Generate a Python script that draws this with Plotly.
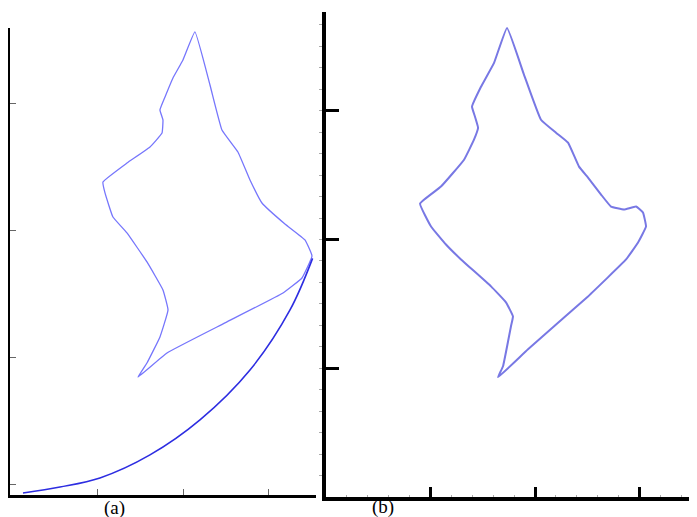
import plotly.graph_objects as go

# panel (a): closed loop, then the lower curve
a_loop_x = [2.134, 2.310, 2.450, 2.637, 2.778, 2.918, 3.187, 3.421, 3.503, 3.386,
            3.164, 2.485, 1.807, 1.468, 1.573, 1.725, 1.819, 1.760, 1.573, 1.339,
            1.175, 1.082, 1.058, 1.339, 1.608, 1.749, 1.760, 1.725, 1.784, 1.877,
            1.994, 2.134]
a_loop_y = [3.559, 3.142, 2.789, 2.616, 2.396, 2.215, 2.050, 1.925, 1.799, 1.626,
            1.508, 1.273, 1.037, 0.848, 0.958, 1.163, 1.375, 1.532, 1.752, 1.980,
            2.105, 2.294, 2.380, 2.529, 2.655, 2.765, 2.867, 2.946, 3.048, 3.197,
            3.339, 3.559]
a_curve_x = [0.123, 0.556, 1.023, 1.608, 2.193, 2.778, 3.246, 3.510]
a_curve_y = [-0.063, -0.016, 0.055, 0.236, 0.511, 0.903, 1.375, 1.780]

# panel (b): closed loop
b_loop_x = [1.732, 1.895, 2.057, 2.201, 2.316, 2.421, 2.507, 2.632, 2.727, 2.852,
            2.967, 3.033, 3.062, 2.986, 2.871, 2.507, 1.933, 1.646, 1.694, 1.770,
            1.789, 1.722, 1.579, 1.292, 1.148, 1.005, 0.900, 1.100, 1.321, 1.416,
            1.455, 1.426, 1.397, 1.483, 1.608, 1.732]
b_loop_y = [3.643, 3.279, 2.930, 2.829, 2.752, 2.566, 2.481, 2.349, 2.256, 2.233,
            2.256, 2.209, 2.101, 1.977, 1.845, 1.558, 1.147, 0.930, 1.016, 1.326,
            1.403, 1.512, 1.636, 1.845, 1.961, 2.101, 2.279, 2.411, 2.620, 2.775,
            2.868, 2.953, 3.031, 3.186, 3.372, 3.643]

panel_labels = ["(a)", "(b)"]

# page body has an 8px margin, so the figure is drawn 8px smaller and offset
OFF = 8
W, H = 697 - OFF, 517 - OFF


def px_x(p):
    return (p - OFF) / W


def px_y(p):
    return 1 - (p - OFF) / H


fig = go.Figure()
fig.add_trace(go.Scatter(x=a_loop_x, y=a_loop_y, mode="lines",
                         line=dict(color="rgb(118,118,252)", width=1.3,
                                   shape="spline", smoothing=0.3),
                         xaxis="x", yaxis="y"))
fig.add_trace(go.Scatter(x=a_curve_x, y=a_curve_y, mode="lines",
                         line=dict(color="rgb(45,45,225)", width=1.6, shape="spline"),
                         xaxis="x", yaxis="y"))
fig.add_trace(go.Scatter(x=b_loop_x, y=b_loop_y, mode="lines",
                         line=dict(color="rgb(120,120,228)", width=2,
                                   shape="spline", smoothing=0.3),
                         xaxis="x2", yaxis="y2"))

common = dict(showgrid=False, zeroline=False, showticklabels=False,
              showline=True, linecolor="black")
label_font = dict(family="Liberation Serif, DejaVu Serif, serif", size=19, color="black")

fig.update_layout(
    width=W, height=H,
    margin=dict(l=0, r=0, t=0, b=0),
    paper_bgcolor="white", plot_bgcolor="white",
    showlegend=False,
    xaxis=dict(domain=[px_x(10), px_x(316)], range=[-0.029, 3.55], anchor="y",
               linewidth=3, ticks="inside", ticklen=6, tickwidth=1,
               tickcolor="#666", tickvals=[1, 2, 3], **common),
    yaxis=dict(domain=[px_y(495), px_y(28)], range=[-0.079, 3.59], anchor="x",
               linewidth=3, ticks="inside", ticklen=6, tickwidth=1,
               tickcolor="#666", tickvals=[0, 1, 2, 3], **common),
    xaxis2=dict(domain=[px_x(326), 1.0], range=[0, 3.55], anchor="y2",
                linewidth=3.5, ticks="inside", ticklen=10, tickwidth=3,
                tickcolor="black", tickvals=[1, 2, 3],
                minor=dict(ticks="inside", ticklen=2, tickwidth=1,
                           tickcolor="#aaa", dtick=0.2, tick0=0), **common),
    yaxis2=dict(domain=[px_y(497), px_y(12)], range=[0, 3.767], anchor="x2",
                linewidth=3.5, ticks="inside", ticklen=13, tickwidth=3,
                tickcolor="black", tickvals=[1, 2, 3],
                minor=dict(ticks="outside", ticklen=3, tickwidth=1,
                           tickcolor="#aaa", dtick=1 / 6, tick0=0), **common),
    annotations=[
        dict(text=panel_labels[0], x=px_x(114), y=px_y(508), xref="paper", yref="paper",
             xanchor="center", yanchor="middle", showarrow=False, font=label_font),
        dict(text=panel_labels[1], x=px_x(383), y=px_y(507), xref="paper", yref="paper",
             xanchor="center", yanchor="middle", showarrow=False, font=label_font),
    ],
)

fig.write_html("out.html")
